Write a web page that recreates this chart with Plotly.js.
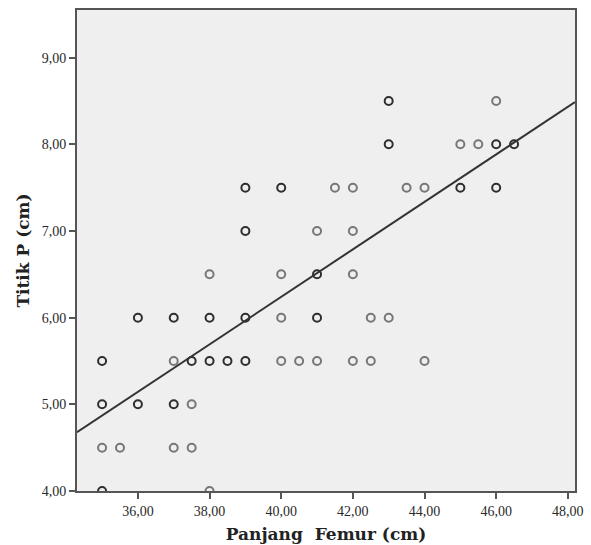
<!DOCTYPE html>
<html>
<head>
<meta charset="utf-8">
<script src="https://cdn.plot.ly/plotly-3.0.1.min.js"></script>
<style>html,body{margin:0;padding:0;background:#fff;}#chart{width:591px;height:545px;}</style>
</head>
<body>
<div id="chart"></div>
<script>
// Panjang Femur (cm)
const femur = [
  43, 46,
  43, 45, 45.5, 46, 46.5,
  39, 40, 41.5, 42, 43.5, 44, 45, 46,
  39, 41, 42,
  38, 40, 41, 42,
  36, 37, 38, 39, 40, 41, 42.5, 43,
  35, 37, 37.5, 38, 38.5, 39, 40, 40.5, 41, 42, 42.5, 44,
  35, 36, 37, 37.5,
  35, 35.5, 37, 37.5,
  35, 38
];
// Titik P (cm)
const titikP = [
  8.5, 8.5,
  8, 8, 8, 8, 8,
  7.5, 7.5, 7.5, 7.5, 7.5, 7.5, 7.5, 7.5,
  7, 7, 7,
  6.5, 6.5, 6.5, 6.5,
  6, 6, 6, 6, 6, 6, 6, 6,
  5.5, 5.5, 5.5, 5.5, 5.5, 5.5, 5.5, 5.5, 5.5, 5.5, 5.5, 5.5,
  5, 5, 5, 5,
  4.5, 4.5, 4.5, 4.5,
  4, 4
];
// number of overlapping cases at each position (dark circles = several)
const cases = [
  2, 1,
  2, 1, 1, 2, 2,
  2, 2, 1, 1, 1, 1, 2, 2,
  2, 1, 1,
  1, 1, 2, 1,
  2, 2, 2, 2, 1, 2, 1, 1,
  2, 1, 2, 2, 2, 2, 1, 1, 1, 1, 1, 1,
  2, 2, 2, 1,
  1, 1, 1, 1,
  2, 1
];
// linear fit line: Titik P = intercept + slope * Femur
const fitIntercept = -4.72;
const fitSlope = 0.274;
const fitX = [34.3, 48.2];
const xTicks = [36, 38, 40, 42, 44, 46, 48];
const yTicks = [4, 5, 6, 7, 8, 9];

const fitY = fitX.map(v => fitIntercept + fitSlope * v);
const colors = cases.map(n => n > 1 ? '#2e2e2e' : '#777777');

const traces = [
  {
    x: femur, y: titikP, type: 'scatter', mode: 'markers',
    marker: {symbol: 'circle-open', size: 8, color: colors, line: {width: 2, color: colors}},
    hoverinfo: 'x+y'
  },
  {
    x: fitX, y: fitY, type: 'scatter', mode: 'lines',
    line: {color: '#333333', width: 2}, hoverinfo: 'skip'
  }
];

const tickFont = {family: 'Liberation Serif, serif', size: 14, color: '#2a2a2a'};
const layout = {
  width: 591, height: 545,
  margin: {l: 77, r: 16, t: 10, b: 54},
  paper_bgcolor: '#ffffff',
  plot_bgcolor: '#efefef',
  separators: ',.',
  showlegend: false,
  xaxis: {
    range: [34.3, 48.2], tickvals: xTicks, tickformat: '.2f',
    ticks: 'outside', ticklen: 6, tickwidth: 2, tickcolor: '#555',
    showgrid: false, zeroline: false,
    showline: true, mirror: true, linecolor: '#555', linewidth: 2,
    tickfont: tickFont,
    title: {text: 'Panjang&nbsp; Femur (cm)', font: {family: 'DejaVu Serif, serif', size: 17, color: '#222', weight: 'bold'}, standoff: 10}
  },
  yaxis: {
    range: [4, 9.55], tickvals: yTicks, tickformat: '.2f',
    ticks: 'outside', ticklen: 6, tickwidth: 2, tickcolor: '#555',
    showgrid: false, zeroline: false,
    showline: true, mirror: true, linecolor: '#555', linewidth: 2,
    tickfont: tickFont,
    title: {text: 'Titik P (cm)', font: {family: 'DejaVu Serif, serif', size: 17, color: '#222', weight: 'bold'}, standoff: 8}
  }
};

Plotly.newPlot('chart', traces, layout, {displayModeBar: false, staticPlot: true});
</script>
</body>
</html>
